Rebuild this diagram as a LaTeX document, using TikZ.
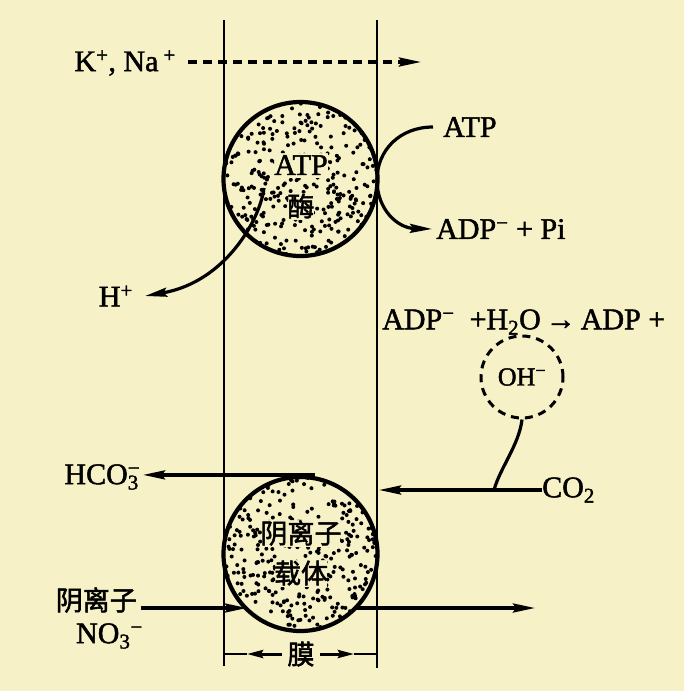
\documentclass[tikz,border=0pt]{standalone}
\usepackage{fontspec}
\setmainfont{Liberation Serif}[FakeBold=1.6]
\newfontfamily\cjk{Noto Sans CJK SC}[FakeBold=2]
\usetikzlibrary{arrows.meta}
\definecolor{paper}{RGB}{246,241,198}
\begin{document}
\begin{tikzpicture}[x=1pt,y=-1pt,
  mem/.style={line width=2.6pt},
  ring/.style={circle, draw, line width=4.2pt, minimum size=154pt, inner sep=0pt},
  lbl/.style={font=\fontsize{30}{32}\selectfont, inner sep=0pt},
  cn/.style={font=\cjk\fontsize{27}{30}\selectfont, inner sep=0pt},
  arr/.style={line width=3.2pt, -{Stealth[length=22pt,width=9pt,inset=3pt]}},
  flow/.style={line width=3.2pt},
  dimtip/.style={line width=3pt, -{Stealth[length=16pt,width=8pt,inset=2pt]}},
  dotfill/.style={fill=black}
]
\fill[paper] (0,0) rectangle (684,691);
\useasboundingbox (0,0) rectangle (684,691);

% membrane lines
\coordinate (mlt) at (224,20);
\coordinate (mlb) at (224,666);
\coordinate (mrt) at (377,20);
\coordinate (mrb) at (377,668);
\draw[mem] (mlt) -- (mlb);
\draw[mem] (mrt) -- (mrb);

% stippling (kept clear of the text)
\pgfmathsetseed{7}
\begin{scope}[even odd rule]
  \clip (300.5,179) circle (77pt)
     (274,153) rectangle (328,178) (288,193) rectangle (314,220);
  \foreach \i in {1,...,400} {
    \pgfmathsetmacro{\dx}{78*rand}
    \pgfmathsetmacro{\dy}{78*rand}
    \fill[dotfill] ({300.5+\dx},{179+\dy}) circle (2pt);
  }
\end{scope}
\begin{scope}[even odd rule]
  \clip (300.5,554) circle (77pt)
     (262,520) rectangle (340,547) (275,560) rectangle (327,587);
  \foreach \i in {1,...,400} {
    \pgfmathsetmacro{\dx}{78*rand}
    \pgfmathsetmacro{\dy}{78*rand}
    \fill[dotfill] ({300.5+\dx},{554+\dy}) circle (2pt);
  }
\end{scope}

% circles
\node[ring] (enz) at (300.5,179) {};
\node[ring] (car) at (300.5,554) {};
\node[lbl] (enzt) at (301,165) {ATP};
\node[cn] (enzc) at (301,206) {酶};
\node[cn] (car1) at (301,533) {阴离子};
\node[cn] (car2) at (301,573) {载体};

% K+, Na+
\node[lbl, anchor=east] (k) at (176,63) {K\textsuperscript{+}, Na\,\textsuperscript{+}};
\coordinate (kend) at (421,62);
\draw[arr, dash pattern=on 9pt off 6pt] ([xshift=12pt]k.east |- kend) -- (kend);

% ATP -> ADP + Pi
\node[lbl, anchor=west] (atp) at (443,127) {ATP};
\node[lbl, anchor=west] (adp) at (436,229) {ADP\textsuperscript{−} + Pi};
\draw[arr] ([xshift=-10pt]atp.west) .. controls (400,127) and (377,150) .. (377,180)
  .. controls (377,210) and (398,228) .. ([xshift=-4pt]adp.west);

% H+
\node[lbl, anchor=east] (h) at (133,296) {H\textsuperscript{+}};
\coordinate (hs) at (264,188);
\draw[arr] (hs) .. controls (260,220) and (225,282) .. ([xshift=12pt]h.east);

% equation
\node[lbl, anchor=west] (eq) at (382,322) {ADP\textsuperscript{−}\ \ +H\textsubscript{2}O\,→\,ADP +};

% OH-
\node[circle, draw, dash pattern=on 8pt off 6pt, line width=3pt, minimum size=82pt, inner sep=0pt,
  font=\fontsize{26}{28}\selectfont] (oh) at (522,377) {OH\textsuperscript{−}};

% CO2
\node[lbl, anchor=west] (co2) at (542,490) {CO\textsubscript{2}};
\coordinate (co2tip) at (379,490);
\coordinate (junc) at (494,490);
\draw[arr] (co2.west) -- (co2tip);
\draw[flow] (oh.south) .. controls (519,445) and (500,468) .. (junc);

% HCO3-
\node[lbl, anchor=east] (hco) at (139,477) {HCO\rlap{\textsuperscript{−}}\textsubscript{3}};
\draw[arr] ([xshift=14pt]car.north) -- ([xshift=4pt]hco.east |- car.north);

% anion NO3-
\node[cn, anchor=east] (an) at (137,600) {阴离子};
\node[lbl, anchor=east] (no3) at (143,636) {NO\textsubscript{3}\textsuperscript{−}};
\coordinate (ast) at (141,608);
\coordinate (ain) at (247,608);
\coordinate (aout) at (355,608);
\coordinate (aend) at (535,608);
\draw[arr] (ast) -- (ain);
\draw[arr] (aout) -- (aend);

% membrane dimension
\node[cn] (mo) at (301,654) {膜};
\coordinate (dl) at (224,654);
\coordinate (dr) at (377,654);
\draw[dimtip] ([xshift=-5pt]mo.west) -- ([xshift=23pt]dl);
\draw[line width=2pt] ([xshift=23pt]dl) -- (dl);
\draw[dimtip] ([xshift=5pt]mo.east) -- ([xshift=-23pt]dr);
\draw[line width=2pt] ([xshift=-23pt]dr) -- (dr);
\end{tikzpicture}
\end{document}
